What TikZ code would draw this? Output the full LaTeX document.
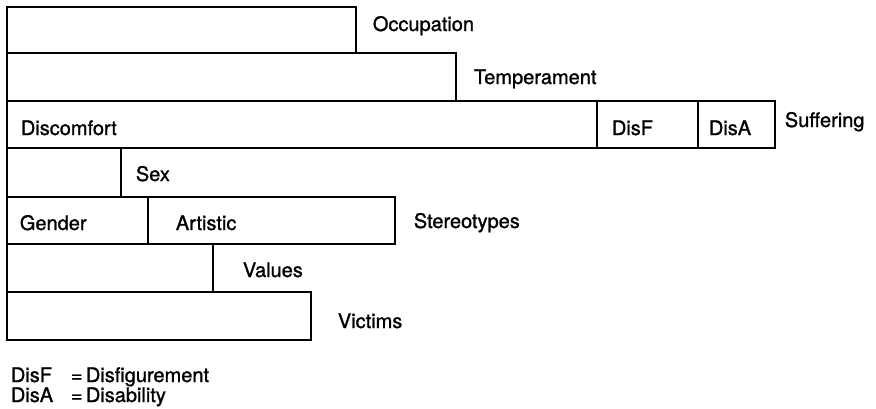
\documentclass[tikz,border=0pt]{standalone}
\usepackage{fontspec}
\setmainfont{TeX Gyre Heros}[FakeBold=1.2]
\usepackage{tikz}

\tikzset{lbl/.style={anchor=base west, inner sep=0pt, font=\fontsize{20}{24}\selectfont}}

\begin{document}
\begin{tikzpicture}[x=1pt,y=-1pt,line width=1.8pt]
\useasboundingbox (0,0) rectangle (876,408);
\draw (7,7) rectangle (356,53);
\draw (7,53) rectangle (456,101);
\draw (7,101) rectangle (775,148);
\draw (597,101) --  (597,148);
\draw (698,101) --  (698,148);
\draw (7,148) rectangle (121,197);
\draw (7,197) rectangle (395,244);
\draw (148,197) --  (148,244);
\draw (7,244) rectangle (213,292);
\draw (7,292) rectangle (311,340);

\node[lbl] (occ) at (372,31) {Occupation};
\node[lbl] (temp) at (473,84) {Temperament};
\node[lbl] (disc) at (20,135) {Discomfort};
\node[lbl] (disf) at (611,135) {DisF};
\node[lbl] (disa) at (708,135) {DisA};
\node[lbl] (suff) at (784,127) {Suffering};
\node[lbl] (sex) at (135,181) {Sex};
\node[lbl] (gend) at (19,230) {Gender};
\node[lbl] (art) at (175,230) {Artistic};
\node[lbl] (ster) at (413,228) {Stereotypes};
\node[lbl] (val) at (242,277) {Values};
\node[lbl] (vict) at (337,328) {Victims};

\node[lbl] (k1) at (10,382) {DisF};
\node[lbl] (e1) at (70,382) {=};
\node[lbl] (d1) at (85,382) {Disfigurement};
\node[lbl] (k2) at (10,402) {DisA};
\node[lbl] (e2) at (70,402) {=};
\node[lbl] (d2) at (85,402) {Disability};
\end{tikzpicture}
\end{document}
